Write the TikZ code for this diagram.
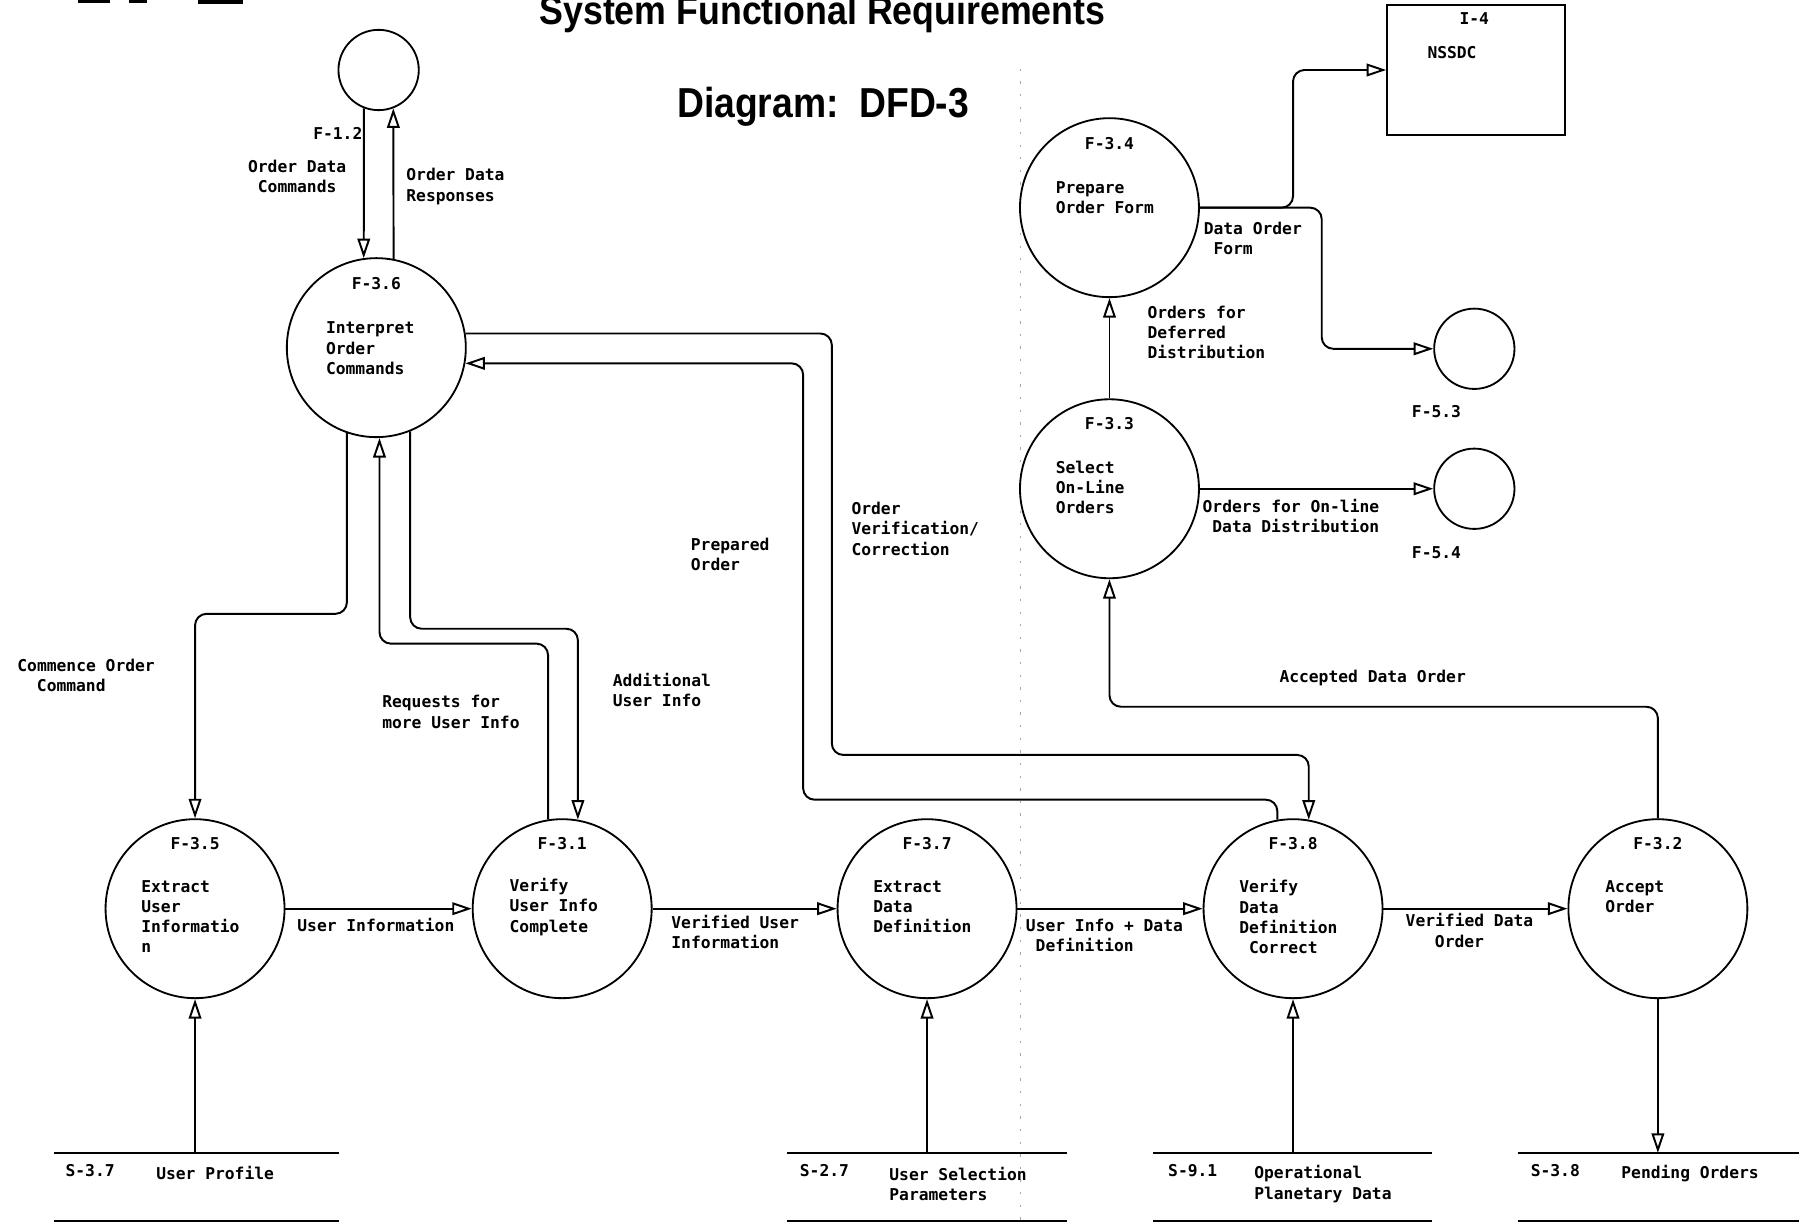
\documentclass[tikz,border=0pt]{standalone}
\usepackage{fontspec}
\newfontfamily\plotfont{DejaVu Sans Mono}
\newfontfamily\headfont{Liberation Sans}[FakeStretch=0.89]
\usetikzlibrary{arrows.meta}

\begin{document}
\begin{tikzpicture}[x=1pt, y=-1pt,
  proc/.style={circle, draw, line width=1.6pt, minimum size=156pt, inner sep=0pt},
  term/.style={circle, draw, line width=1.6pt, minimum size=70pt, inner sep=0pt},
  box/.style={draw, line width=1.6pt, inner sep=0pt},
  store/.style={inner sep=0pt, minimum height=59pt},
  flow/.style={line width=1.7pt, rounded corners=10pt, -{Triangle[open, length=17pt, width=11pt]}},
  txt/.style={font=\plotfont\bfseries\fontsize{14.2}{17.6}\selectfont, inner sep=0pt, align=left},
  head/.style={font=\headfont\bfseries\fontsize{35}{40}\selectfont, inner sep=0pt},
  fold/.style={draw=black!35, line width=0.8pt, dash pattern=on 2pt off 9pt},
]
\useasboundingbox (0,0) rectangle (1568,1065);

% page fold and clipped header remnants
\draw[fold] (889,60) -- (889,1065);
\fill (68,0) rectangle (96,2.6);
\fill (112,0) rectangle (128,2.6);
\fill (173,0) rectangle (212,3.5);

% headings
\node[head, anchor=base west] (title) at (470,21) {System Functional Requirements};
\node[head, anchor=base west, font=\headfont\bfseries\fontsize{36.5}{42}\selectfont] (dia) at (590,102) {Diagram:\ \ DFD-3};

% processes and terminators
\node[term] (p12) at (330,61) {};
\node[proc] (p36) at (328,303) {};
\node[proc] (p35) at (170,792) {};
\node[proc] (p31) at (490,792) {};
\node[proc] (p37) at (808,792) {};
\node[proc] (p38) at (1127,792) {};
\node[proc] (p32) at (1445,792) {};
\node[proc] (p33) at (967,426) {};
\node[proc] (p34) at (967,181) {};
\node[term] (p53) at (1285,304) {};
\node[term] (p54) at (1285,426) {};
\node[box, minimum width=155pt, minimum height=114pt] (i4) at (1286.5,61) {};

% data stores
\node[store, minimum width=247.5pt] (s37) at (171.25,1034.5) {};
\node[store, minimum width=244pt] (s27) at (808,1034.5) {};
\node[store, minimum width=243pt] (s91) at (1126.5,1034.5) {};
\node[store, minimum width=245pt] (s38) at (1445.5,1034.5) {};
\foreach \s in {s37,s27,s91,s38}
  \draw[line width=1.6pt] (\s.north west) -- (\s.north east) (\s.south west) -- (\s.south east);

% bend rows and columns
\coordinate (k1) at (0,535);
\coordinate (k2) at (0,561);
\coordinate (k3) at (0,548);
\coordinate (k4) at (725,658);
\coordinate (k5) at (700,697);
\coordinate (k6) at (0,616);
\coordinate (k7) at (1127,0);
\coordinate (k8) at (1152,0);

% flows
\draw[flow] (p12.-111.8) -- (p36.98.1);
\draw[flow] (p36.79.66) -- (p12.-69.95);
\draw[flow] (p36.-109.47) |- (k1 -| p35.north) -- (p35.north);
\draw[flow] (p31.99.59) |- (k2 -| p36.-88.53) -- (p36.-88.53);
\draw[flow] (p36.-68.96) |- (k3 -| p31.80.41) -- (p31.80.41);
\draw[flow] (p36.9.22) -| (k4) -| (p38.80.41);
\draw[flow] (p38.100.34) |- (k5) |- (p36.-10.71);
\draw[flow] (p35.east) -- (p31.west);
\draw[flow] (p31.east) -- (p37.west);
\draw[flow] (p37.east) -- (p38.west);
\draw[flow] (p38.east) -- (p32.west);
\draw[flow] (s37.north -| p35.south) -- (p35.south);
\draw[flow] (s27.north -| p37.south) -- (p37.south);
\draw[flow] (s91.north -| p38.south) -- (p38.south);
\draw[flow] (p32.south) -- (p32.south |- s38.north);
\draw[flow] (p32.north) |- (k6 -| p33.south) -- (p33.south);
\draw[flow] (p33.north) -- (p34.south);
\draw[flow] (p33.east) -- (p54.west);
\draw[flow] (p34.east) -| (k7 |- i4.west) -- (i4.west);
\draw[flow] (p34.east) -| (k8 |- p53.west) -- (p53.west);

% process texts
\node[txt, anchor=east] (t12) at (316,116) {F-1.2};
\node[txt] (n36) at (328,247) {F-3.6};
\node[txt, anchor=west] (d36) at (284,303.5) {Interpret\\Order\\Commands};
\node[txt] (n35) at (170,735) {F-3.5};
\node[txt, anchor=west] (d35) at (123,799) {Extract\\User\\Informatio\\n};
\node[txt] (n31) at (490,735) {F-3.1};
\node[txt, anchor=west] (d31) at (444,790.5) {Verify\\User Info\\Complete};
\node[txt] (n37) at (808,735) {F-3.7};
\node[txt, anchor=west] (d37) at (761,790.5) {Extract\\Data\\Definition};
\node[txt] (n38) at (1127,735) {F-3.8};
\node[txt, anchor=west] (d38) at (1080,799) {Verify\\Data\\Definition\\\hspace*{8.5pt}Correct};
\node[txt] (n32) at (1445,735) {F-3.2};
\node[txt, anchor=west] (d32) at (1399,781.5) {Accept\\Order};
\node[txt] (n33) at (967,369) {F-3.3};
\node[txt, anchor=west] (d33) at (920,425) {Select\\On-Line\\Orders};
\node[txt] (n34) at (967,125) {F-3.4};
\node[txt, anchor=west] (d34) at (920,172.5) {Prepare\\Order Form};
\node[txt] (n53) at (1252,359) {F-5.3};
\node[txt] (n54) at (1252,482) {F-5.4};
\node[txt] (ni4) at (1285,16) {I-4};
\node[txt, anchor=west] (di4) at (1244,46) {NSSDC};

% store texts
\node[txt, anchor=west] (ns37) at (57,1020) {S-3.7};
\node[txt, anchor=west] (ds37) at (136,1022) {User Profile};
\node[txt, anchor=west] (ns27) at (697,1020) {S-2.7};
\node[txt, anchor=west] (ds27) at (775,1032) {User Selection\\Parameters};
\node[txt, anchor=west] (ns91) at (1018,1020) {S-9.1};
\node[txt, anchor=west] (ds91) at (1093,1032) {Operational\\Planetary Data};
\node[txt, anchor=west] (ns38) at (1334,1020) {S-3.8};
\node[txt, anchor=west] (ds38) at (1413,1023) {Pending Orders};

% flow labels
\node[txt, align=center] (l1) at (259,153.5) {Order Data\\Commands};
\node[txt, anchor=west] (l2) at (354,162.5) {Order Data\\Responses};
\node[txt, anchor=west] (l3) at (15,588.5) {Commence Order\\\hspace*{17pt}Command};
\node[txt, anchor=west] (l4) at (333,620.5) {Requests for\\more User Info};
\node[txt, anchor=west] (l5) at (534,601.5) {Additional\\User Info};
\node[txt, anchor=west] (l6) at (602,483.5) {Prepared\\Order};
\node[txt, anchor=west] (l7) at (742,461) {Order\\Verification/\\Correction};
\node[txt, anchor=west] (l8) at (259,806) {User Information};
\node[txt, anchor=west] (l9) at (585,812.5) {Verified User\\Information};
\node[txt, anchor=west] (l10) at (894,815.5) {User Info + Data\\\hspace*{8.5pt}Definition};
\node[txt, anchor=west] (l11) at (1225,811) {Verified Data\\\hspace*{25.5pt}Order};
\node[txt, anchor=west] (l12) at (1115,591) {Accepted Data Order};
\node[txt, anchor=west] (l13) at (1000,290) {Orders for\\Deferred\\Distribution};
\node[txt, anchor=west] (l14) at (1048,450) {Orders for On-line\\\hspace*{8.5pt}Data Distribution};
\node[txt, anchor=west] (l15) at (1049,207.5) {Data Order\\\hspace*{8.5pt}Form};
\end{tikzpicture}
\end{document}
